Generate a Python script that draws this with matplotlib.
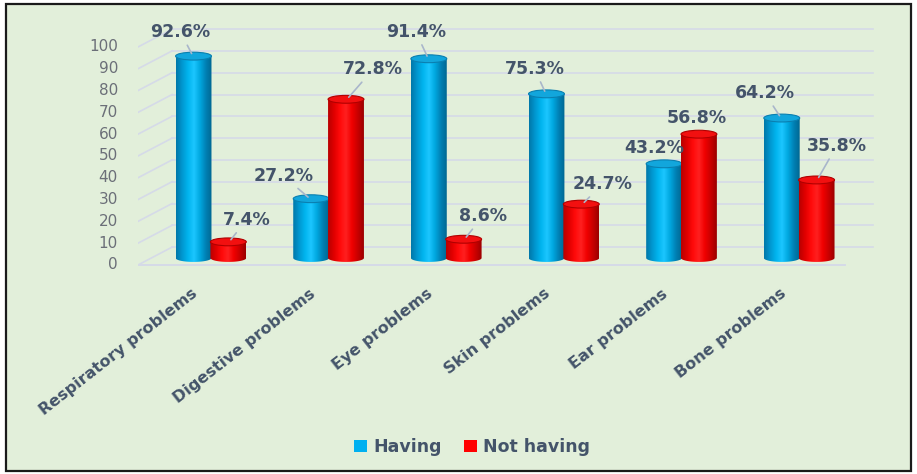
import matplotlib.pyplot as plt
import numpy as np
from matplotlib.patches import Ellipse, Polygon, Rectangle, Patch
from matplotlib.colors import LinearSegmentedColormap

categories = ["Respiratory problems", "Digestive problems", "Eye problems",
              "Skin problems", "Ear problems", "Bone problems"]
having = [92.6, 27.2, 91.4, 75.3, 43.2, 64.2]
not_having = [7.4, 72.8, 8.6, 24.7, 56.8, 35.8]
yticks = list(range(0, 101, 10))

# label offsets in pixels (dx, up) from bar top
off_having = [(-13, 25), (-28, 24), (-13, 28), (-12, 26), (-10, 17), (-17, 26)]
off_not = [(18, 23), (27, 31), (19, 24), (21, 21), (-2, 17), (20, 35)]

bg = "#E2EFDA"
txt = "#44546A"
grid_c = "#D5DAE8"

blue_cm = LinearSegmentedColormap.from_list(
    "b", ["#0077A8", "#0096CF", "#00B4EE", "#1CC6FF", "#00A8E0", "#0080B4", "#006791"])
red_cm = LinearSegmentedColormap.from_list(
    "r", ["#B80000", "#E00000", "#FF0A0A", "#FF2020", "#F00000", "#C80000", "#9A0000"])

fig = plt.figure(figsize=(9.17, 4.74), dpi=100)
fig.patch.set_facecolor("white")
fig.patches.append(Rectangle((6 / 917, 3 / 474), 905 / 917, 467 / 474,
                             transform=fig.transFigure, facecolor=bg,
                             edgecolor="#1a1a1a", linewidth=1.6, zorder=-5))

# baseline at 258 px, 2.18 px per unit
ymin, ymax = -6, 106
bot_px = 258 + (-ymin) * 2.18
top_px = 258 - ymax * 2.18
ax = fig.add_axes([138 / 917, (474 - bot_px) / 474, 740 / 917, (bot_px - top_px) / 474])
ax.set_facecolor("none")
for s in ax.spines.values():
    s.set_visible(False)

xl = (-0.62, 5.67)
front_dy = -3.2
back_dy = 5.0
back_x0 = -0.33

# back wall gridlines and left perspective lines
for v in yticks:
    ax.plot([back_x0, 5.63], [v + back_dy, v + back_dy], color=grid_c, lw=1.2, zorder=1)
    ax.plot([xl[0], back_x0], [v + front_dy, v + back_dy], color=grid_c, lw=1.2, zorder=1)
    ax.text(xl[0] - 0.17, v + front_dy, str(v), ha="right", va="center",
            fontsize=11, color="#6b6f78")
ax.plot([xl[0], 5.39], [front_dy, front_dy], color=grid_c, lw=1.4, zorder=1)

w = 0.305
eh = 3.6
x = np.arange(len(categories))
grad = np.linspace(0, 1, 256).reshape(1, -1)


def cylinder(cx, v, cmap, top_face, top_edge, z):
    x0, x1 = cx - w / 2, cx + w / 2
    t = np.linspace(np.pi, 2 * np.pi, 40)
    arc = np.column_stack([cx + w / 2 * np.cos(t), eh / 2 * np.sin(t)])
    pts = np.vstack([[[x0, v]], arc, [[x1, v]]])
    poly = Polygon(pts, closed=True, facecolor="none", edgecolor="none")
    ax.add_patch(poly)
    im = ax.imshow(grad, cmap=cmap, extent=[x0, x1, -eh, v], aspect="auto",
                   zorder=z, interpolation="bilinear")
    im.set_clip_path(poly)
    ax.add_patch(Ellipse((cx, v), w, eh, facecolor=top_face, edgecolor=top_edge,
                         linewidth=0.8, zorder=z + 0.1))


for i in range(len(categories)):
    cylinder(x[i] - 0.148, having[i], blue_cm, "#12A6DC", "#0A7FB0", 3 + i * 0.01)
    cylinder(x[i] + 0.148, not_having[i], red_cm, "#F21010", "#B00000", 4 + i * 0.01)

k = 0.72
for i in range(len(categories)):
    for cx, v, (dx, dy) in [(x[i] - 0.148, having[i], off_having[i]),
                            (x[i] + 0.148, not_having[i], off_not[i])]:
        ap = None
        if dy > 20:
            ap = dict(arrowstyle="-", color="#A9B6CB", lw=1.2, shrinkA=1, shrinkB=3)
        ax.annotate(f"{v}%", xy=(cx, v - 0.5), xytext=(dx * k, dy * k),
                    textcoords="offset points", ha="center", va="center",
                    fontsize=12.5, fontweight="bold", color=txt,
                    arrowprops=ap, zorder=6)

for i, c in enumerate(categories):
    ax.text(x[i] - 0.13, -15.5, c, rotation=38, rotation_mode="anchor",
            ha="right", va="center", fontsize=11.5, fontweight="bold", color=txt,
            clip_on=False)

ax.set_xlim(*xl)
ax.set_ylim(ymin, ymax)
ax.set_xticks([])
ax.set_yticks([])

handles = [Patch(facecolor="#00B0F0", edgecolor="none", label="Having"),
           Patch(facecolor="#FF0000", edgecolor="none", label="Not having")]
leg = fig.legend(handles=handles, loc="center", bbox_to_anchor=(472 / 917, 1 - 447 / 474),
                 ncol=2, frameon=False, handlelength=0.75, handleheight=0.75,
                 handletextpad=0.35, columnspacing=1.3,
                 prop=dict(size=12.5, weight="bold"))
for t in leg.get_texts():
    t.set_color(txt)

fig.savefig("out.png", dpi=100, facecolor="white")
